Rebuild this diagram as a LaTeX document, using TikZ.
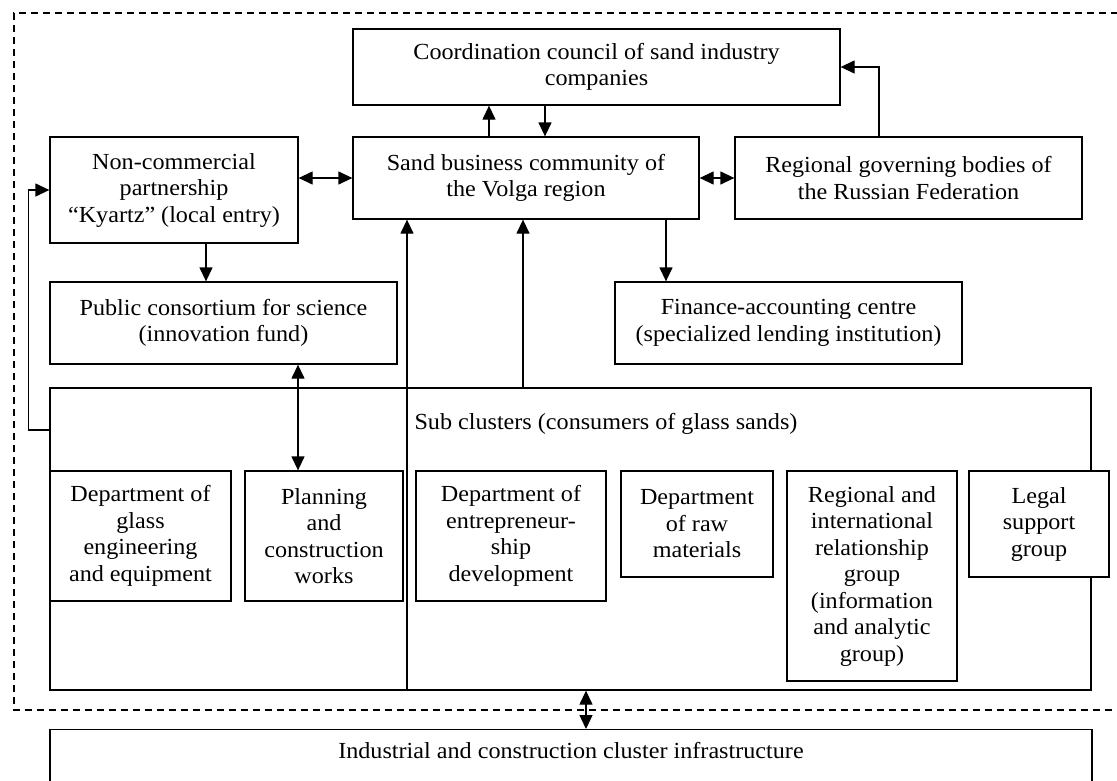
\documentclass[tikz,border=0pt]{standalone}
\usepackage{fontspec}
\setmainfont[FakeStretch=1.05]{Liberation Serif}
\usepackage{tikz}
\usetikzlibrary{calc, arrows.meta}

\tikzset{
    box/.style={draw, align=center, inner sep=0pt, font=\fontsize{23}{26.5}\selectfont},
    txt/.style={align=center, inner sep=0pt, font=\fontsize{23}{26.5}\selectfont},
}

\begin{document}
\begin{tikzpicture}[x=1pt, y=-1pt, line width=1.3pt, >={Triangle[length=14pt, width=13pt]}]
    \useasboundingbox (0, 0) rectangle (1117, 780);
    \clip (0, 0) rectangle (1117, 780);
    % 上层机构
    \node [box, minimum width=487pt, minimum height=76pt] (council) at (596.5, 67) {Coordination council of sand industry\\companies};
    \node [box, minimum width=346pt, minimum height=82pt] (sbc) at (526, 178) {Sand business community of\\the Volga region};
    \node [box, minimum width=248pt, minimum height=106pt] (ncp) at (174, 190) {Non-commercial\\partnership\\“Kyartz” (local entry)};
    \node [box, minimum width=347pt, minimum height=82pt] (rgb) at (908.5, 178) {Regional governing bodies of\\the Russian Federation};
    \node [box, minimum width=347pt, minimum height=82pt] (pcs) at (223.5, 323) {Public consortium for science\\(innovation fund)};
    \node [box, minimum width=347pt, minimum height=82pt] (fac) at (788.5, 323) {Finance-accounting centre\\(specialized lending institution)};
    % 子集群
    \node [box, minimum width=1041pt, minimum height=302pt] (sub) at (570.5, 539) {};
    \node [txt] (subtxt) at (606, 424) {Sub clusters (consumers of glass sands)};
    \node [box, minimum width=181pt, minimum height=130pt] (dge) at (140.5, 536) {Department of\\glass\\engineering\\and equipment};
    \node [box, minimum width=158pt, minimum height=130pt] (pcw) at (324, 536) {Planning\\and\\construction\\works};
    \node [box, minimum width=190pt, minimum height=130pt] (ded) at (511, 536) {Department of\\entrepreneur-\\ship\\development};
    \node [box, minimum width=152pt, minimum height=106pt] (drm) at (697, 524) {Department\\of raw\\materials};
    \node [box, minimum width=170pt, minimum height=210pt] (rir) at (872, 576) {Regional and\\international\\relationship\\group\\(information\\and analytic\\group)};
    \node [box, minimum width=140pt, minimum height=106pt, fill=white] (lsg) at (1039, 524) {Legal\\support\\group};
    % 基础设施
    \node [box, minimum width=1042pt, minimum height=80pt, anchor=north] (ici) at (571, 729) {};
    \node [txt] (icitxt) at (571, 751) {Industrial and construction cluster infrastructure};
    % 集群边界
    \draw [dashed, dash pattern=on 7pt off 5pt] (1130, 13) -| (14, 710) -- (1130, 710);

    % 连接线
    \coordinate (x1) at (489, 0);
    \coordinate (x2) at (545, 0);
    \coordinate (x3) at (879, 0);
    \coordinate (x4) at (206, 0);
    \coordinate (x5) at (666, 0);
    \coordinate (x6) at (298, 0);
    \coordinate (x7) at (407, 0);
    \coordinate (x8) at (523, 0);
    \coordinate (x9) at (586, 0);
    \coordinate (y1) at (0, 430);
    \draw [->] (x1 |- sbc.north) -- (x1 |- council.south);
    \draw [->] (x2 |- council.south) -- (x2 |- sbc.north);
    \draw [->] (x3 |- rgb.north) |- (council.east);
    \draw [<->] (sbc.west -| ncp.east) -- (sbc.west);
    \draw [<->] (sbc.east) -- (rgb.west);
    \draw [->] (x4 |- ncp.south) -- (x4 |- pcs.north);
    \draw [->] (x5 |- sbc.south) -- (x5 |- fac.north);
    \draw [<->] (x6 |- pcs.south) -- (x6 |- pcw.north);
    \draw [->] (x7 |- sub.south) -- (x7 |- sbc.south);
    \draw [->] (x8 |- sub.north) -- (x8 |- sbc.south);
    \draw [->] (y1 -| sub.west) -- ++(-21, 0) |- (ncp.west);
    \draw [<->] (x9 |- sub.south) -- (x9 |- ici.north);
\end{tikzpicture}
\end{document}
